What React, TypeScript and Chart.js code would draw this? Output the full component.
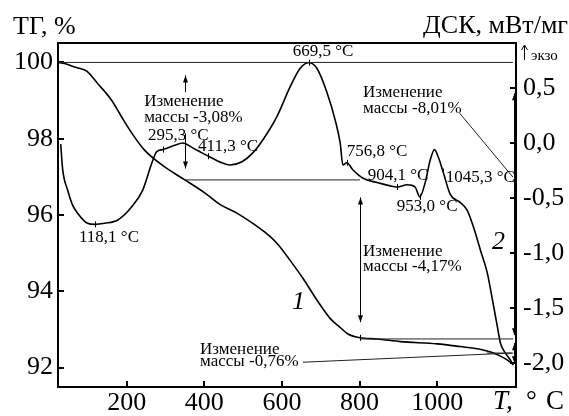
import React, { useEffect, useRef } from "react";
import { Chart, registerables } from "chart.js";
Chart.register(...registerables);

// ---- data ----
const TG_T = [23, 40, 66, 80, 97, 125, 161, 187, 213, 246, 298, 350, 401, 440, 484, 525, 556, 587, 621, 654, 690, 724, 749, 770, 801, 845, 905, 1000, 1059, 1110, 1140, 1163, 1180, 1196];
const TG_V = [100.0, 99.97, 99.88, 99.84, 99.77, 99.45, 99.01, 98.57, 98.15, 97.7, 97.26, 96.92, 96.58, 96.28, 96.05, 95.78, 95.55, 95.26, 94.81, 94.34, 93.77, 93.29, 93.06, 92.88, 92.78, 92.75, 92.68, 92.62, 92.55, 92.48, 92.4, 92.3, 92.2, 92.08];

const DSC_T = [30, 35, 48, 60, 74, 99, 118, 143, 177, 213, 241, 265, 277, 293, 324, 345, 368, 394, 411, 445, 466, 497, 525, 551, 587, 621, 647, 669, 690, 716, 737, 750, 757, 767, 783, 809, 845, 879, 896, 923, 943, 955, 969, 982, 993, 1003, 1015, 1034, 1059, 1077, 1093, 1111, 1129, 1142, 1155, 1163, 1176, 1188, 1196];
const DSC_V = [-0.01, -0.24, -0.43, -0.56, -0.64, -0.73, -0.74, -0.73, -0.7, -0.58, -0.43, -0.18, -0.08, -0.06, -0.02, 0.0, -0.04, -0.09, -0.12, -0.18, -0.2, -0.17, -0.09, 0.03, 0.24, 0.51, 0.68, 0.73, 0.68, 0.46, 0.21, 0.0, -0.2, -0.18, -0.245, -0.32, -0.36, -0.39, -0.4, -0.38, -0.4, -0.49, -0.36, -0.155, -0.06, -0.13, -0.26, -0.47, -0.54, -0.61, -0.76, -0.97, -1.18, -1.42, -1.67, -1.82, -1.91, -1.97, -2.02];

const X_TICKS = [200, 400, 600, 800, 1000];
const TG_TICKS = [92, 94, 96, 98, 100];
const DSC_TICKS = [-2, -1.5, -1, -0.5, 0, 0.5];

const X_MIN = 23, X_MAX = 1203;
const TG_MIN = 91.49, TG_MAX = 100.51;
const DSC_MIN = -2.218, DSC_MAX = 0.909;

// reference lines (TG units): t1, v1, t2, v2
const TG_LINE_T1 = [23, 350, 801, 654, 1128];
const TG_LINE_V1 = [100.0, 96.92, 92.75, 92.14, 92.38];
const TG_LINE_T2 = [1195, 801, 1196, 1192, 1196];
const TG_LINE_V2 = [100.0, 96.92, 92.75, 92.38, 92.38];
// leader line (DSC units)
const DSC_LINE_T1 = [1058];
const DSC_LINE_V1 = [0.27];
const DSC_LINE_T2 = [1195];
const DSC_LINE_V2 = [-0.31];

// arrows (TG units): at temperature, from value to value, both heads?
const ARROW_T = [350, 350, 801, 1198, 1198];
const ARROW_FROM = [99.22, 98.14, 96.46, 99.19, 92.64];
const ARROW_TO = [99.66, 97.22, 93.19, 92.85, 92.11];
const ARROW_BOTH = [false, false, true, true, true];

// small vertical markers on the DSC curve
const MARK_T = [118, 293, 409, 669, 767, 896, 955, 1015];
const MARK_V = [-0.74, -0.06, -0.12, 0.73, -0.18, -0.4, -0.49, -0.26];
const TG_MARK_T = [23, 801];
const TG_MARK_V = [100.0, 92.78];

// annotation texts, anchored (left, middle) in DSC units
const LABEL_TEXT = [
  "669,5 °C", "Изменение", "массы -3,08%", "295,3 °C", "411,3 °C", "118,1 °C",
  "Изменение", "массы -8,01%", "756,8 °C", "904,1 °C", "1045,3 °C", "953,0 °C",
  "Изменение", "массы -4,17%", "Изменение", "массы -0,76%",
];
const LABEL_T = [628, 245, 245, 255, 384, 77, 809, 809, 767, 821, 1022, 896, 809, 809, 389, 389];
const LABEL_V = [0.827, 0.373, 0.236, 0.064, -0.036, -0.855, 0.455, 0.309, -0.082, -0.3, -0.318, -0.573, -0.99, -1.127, -1.873, -1.99];
const CURVE_NAMES = ["1", "2"];
const CURVE_NAME_T = [626, 1141];
const CURVE_NAME_V = [-1.445, -0.9];

const FONT = "'Liberation Serif', 'DejaVu Serif', serif";
const fmtComma = (v: number) => v.toFixed(1).replace(".", ",");

export default function App() {
  const ref = useRef<HTMLCanvasElement | null>(null);
  useEffect(() => {
    document.body.style.margin = "0";
    const canvas = ref.current;
    if (!canvas) return;

    const overlay = {
      id: "overlay",
      afterDraw(chart: any) {
        const ctx = chart.ctx as CanvasRenderingContext2D;
        const a = chart.chartArea;
        const xs = chart.scales.x, ys = chart.scales.y, y2 = chart.scales.y2;
        ctx.save();
        ctx.strokeStyle = "#000";
        ctx.fillStyle = "#000";
        // frame
        ctx.lineWidth = 2;
        ctx.strokeRect(a.left, a.top, a.right - a.left, a.bottom - a.top);
        // inward ticks
        const TL = 6;
        ctx.beginPath();
        X_TICKS.forEach((t) => {
          const px = Math.round(xs.getPixelForValue(t));
          ctx.moveTo(px, a.bottom);
          ctx.lineTo(px, a.bottom - TL);
        });
        TG_TICKS.forEach((t) => {
          const py = Math.round(ys.getPixelForValue(t));
          ctx.moveTo(a.left, py);
          ctx.lineTo(a.left + TL, py);
        });
        DSC_TICKS.forEach((t) => {
          const py = Math.round(y2.getPixelForValue(t));
          ctx.moveTo(a.right, py);
          ctx.lineTo(a.right - TL, py);
        });
        ctx.stroke();

        // reference lines
        ctx.lineWidth = 1;
        ctx.strokeStyle = "#222";
        ctx.beginPath();
        TG_LINE_T1.forEach((_, i) => {
          ctx.moveTo(xs.getPixelForValue(TG_LINE_T1[i]), ys.getPixelForValue(TG_LINE_V1[i]));
          ctx.lineTo(xs.getPixelForValue(TG_LINE_T2[i]), ys.getPixelForValue(TG_LINE_V2[i]));
        });
        DSC_LINE_T1.forEach((_, i) => {
          ctx.moveTo(xs.getPixelForValue(DSC_LINE_T1[i]), y2.getPixelForValue(DSC_LINE_V1[i]));
          ctx.lineTo(xs.getPixelForValue(DSC_LINE_T2[i]), y2.getPixelForValue(DSC_LINE_V2[i]));
        });
        ctx.stroke();

        // arrows
        ctx.strokeStyle = "#000";
        const head = (x: number, y: number, dir: number) => {
          ctx.beginPath();
          ctx.moveTo(x, y);
          ctx.lineTo(x - 2.5, y - dir * 7);
          ctx.lineTo(x + 2.5, y - dir * 7);
          ctx.closePath();
          ctx.fill();
        };
        ARROW_T.forEach((t, i) => {
          const x = Math.round(xs.getPixelForValue(t)) + 0.5;
          const yA = ys.getPixelForValue(ARROW_FROM[i]);
          const yB = ys.getPixelForValue(ARROW_TO[i]);
          ctx.beginPath();
          ctx.moveTo(x, yA);
          ctx.lineTo(x, yB);
          ctx.stroke();
          head(x, yB, yB > yA ? 1 : -1);
          if (ARROW_BOTH[i]) head(x, yA, yA > yB ? 1 : -1);
        });

        // markers
        ctx.beginPath();
        MARK_T.forEach((t, i) => {
          const x = Math.round(xs.getPixelForValue(t)) + 0.5;
          const y = y2.getPixelForValue(MARK_V[i]);
          ctx.moveTo(x, y - 3);
          ctx.lineTo(x, y + 3);
        });
        TG_MARK_T.forEach((t, i) => {
          const x = Math.round(xs.getPixelForValue(t)) + 0.5;
          const y = ys.getPixelForValue(TG_MARK_V[i]);
          ctx.moveTo(x, y - 3);
          ctx.lineTo(x, y + 3);
        });
        ctx.stroke();

        // annotation texts
        ctx.textAlign = "left";
        ctx.textBaseline = "middle";
        ctx.font = `17px ${FONT}`;
        LABEL_TEXT.forEach((s, i) => {
          ctx.fillText(s, xs.getPixelForValue(LABEL_T[i]), y2.getPixelForValue(LABEL_V[i]));
        });
        ctx.font = `italic 26px ${FONT}`;
        CURVE_NAMES.forEach((s, i) => {
          ctx.fillText(s, xs.getPixelForValue(CURVE_NAME_T[i]), y2.getPixelForValue(CURVE_NAME_V[i]));
        });

        // axis titles
        ctx.font = `26px ${FONT}`;
        ctx.textAlign = "left";
        ctx.fillText("ТГ, %", 13, 27);
        ctx.textAlign = "right";
        ctx.fillText("ДСК, мВт/мг", 568, 26);
        // "↑экзо"
        ctx.lineWidth = 1;
        const ax = a.right + 8.5;
        ctx.beginPath();
        ctx.moveTo(ax, 60);
        ctx.lineTo(ax, 46);
        ctx.moveTo(ax - 3, 50);
        ctx.lineTo(ax, 45);
        ctx.lineTo(ax + 3, 50);
        ctx.stroke();
        ctx.textAlign = "left";
        ctx.textBaseline = "alphabetic";
        ctx.font = `15px ${FONT}`;
        ctx.fillText("экзо", a.right + 15, 60);
        // x title
        ctx.textBaseline = "middle";
        ctx.font = `italic 27px ${FONT}`;
        ctx.fillText("T,", 493, 402);
        ctx.font = `27px ${FONT}`;
        ctx.fillText("°", 526, 402);
        ctx.fillText("C", 546, 402);
        ctx.restore();
      },
    };

    const chart = new Chart(canvas, {
      type: "line",
      data: {
        datasets: [
          {
            label: "ТГ",
            data: TG_T.map((t, i) => ({ x: t, y: TG_V[i] })),
            yAxisID: "y",
            borderColor: "#000",
            borderWidth: 1.6,
            pointRadius: 0,
            cubicInterpolationMode: "monotone",
            fill: false,
          },
          {
            label: "ДСК",
            data: DSC_T.map((t, i) => ({ x: t, y: DSC_V[i] })),
            yAxisID: "y2",
            borderColor: "#000",
            borderWidth: 1.6,
            pointRadius: 0,
            cubicInterpolationMode: "monotone",
            fill: false,
          },
        ],
      },
      options: {
        responsive: false,
        animation: false,
        devicePixelRatio: 1,
        layout: { padding: { top: 43, left: 0, right: 0, bottom: 0 } },
        plugins: { legend: { display: false }, tooltip: { enabled: false }, title: { display: false } },
        scales: {
          x: {
            type: "linear",
            min: X_MIN,
            max: X_MAX,
            grid: { display: false, drawTicks: false },
            border: { display: false },
            afterBuildTicks: (s: any) => { s.ticks = X_TICKS.map((v) => ({ value: v })); },
            afterFit: (s: any) => { s.height = 29; },
            ticks: { color: "#000", font: { family: FONT, size: 26 }, padding: 1, maxRotation: 0, autoSkip: false, callback: (v: any) => String(v) },
          },
          y: {
            type: "linear",
            position: "left",
            min: TG_MIN,
            max: TG_MAX,
            grid: { display: false, drawTicks: false },
            border: { display: false },
            afterBuildTicks: (s: any) => { s.ticks = TG_TICKS.map((v) => ({ value: v })); },
            afterFit: (s: any) => { s.width = 58; },
            ticks: { color: "#000", font: { family: FONT, size: 26 }, padding: 5, autoSkip: false, callback: (v: any) => String(v) },
          },
          y2: {
            type: "linear",
            position: "right",
            min: DSC_MIN,
            max: DSC_MAX,
            grid: { display: false, drawTicks: false },
            border: { display: false },
            afterBuildTicks: (s: any) => { s.ticks = DSC_TICKS.map((v) => ({ value: v })); },
            afterFit: (s: any) => { s.width = 53; },
            ticks: { color: "#000", font: { family: FONT, size: 26 }, padding: 7, autoSkip: false, callback: (v: any) => fmtComma(Number(v)) },
          },
        },
      },
      plugins: [overlay],
    } as any);
    return () => chart.destroy();
  }, []);

  return (
    <div style={{ width: 569, height: 416, background: "#fff" }}>
      <canvas ref={ref} width={569} height={416} style={{ display: "block" }} />
    </div>
  );
}
